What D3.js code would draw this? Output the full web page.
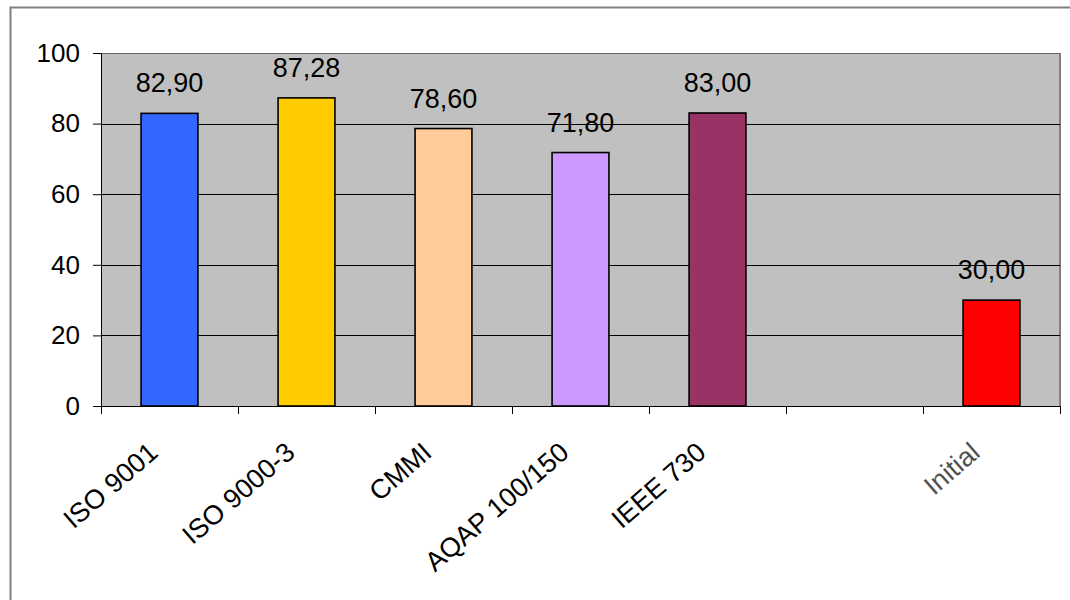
<!DOCTYPE html>
<html>
<head>
<meta charset="utf-8">
<script src="https://cdn.jsdelivr.net/npm/d3@7"></script>
<style>
  body { margin: 0; background: #fff; }
  svg { display: block; font-family: 'Liberation Sans', Arial, sans-serif; }
</style>
</head>
<body>
<div id="chart"></div>
<script>
// Chart data
const categories = ['ISO 9001', 'ISO 9000-3', 'CMMI', 'AQAP 100/150', 'IEEE 730', '', 'Initial'];
const values = [82.90, 87.28, 78.60, 71.80, 83.00, null, 30.00];
const barColors = ['#3366ff', '#ffcc00', '#ffcc99', '#cc99ff', '#993366', 'none', '#ff0000'];
const yTicks = [0, 20, 40, 60, 80, 100];

const width = 1070;
const height = 600;
const margin = { top: 53, right: 10, bottom: 194, left: 101 };
const innerW = width - margin.left - margin.right;
const innerH = height - margin.top - margin.bottom;

const svg = d3.select('#chart').append('svg')
    .attr('width', width)
    .attr('height', height);

// Outer chart frame (runs past the window edge)
svg.append('rect')
    .attr('x', 10.5)
    .attr('y', 7.5)
    .attr('width', width + 20)
    .attr('height', height + 20)
    .attr('fill', 'none')
    .attr('stroke', '#808080')
    .attr('stroke-width', 2);

const g = svg.append('g')
    .attr('transform', `translate(${margin.left}, ${margin.top})`);

const x = d3.scaleBand()
    .domain(categories.map((c, i) => i))
    .range([0, innerW]);

const y = d3.scaleLinear()
    .domain([0, 100])
    .range([innerH, 0]);

// Plot area
g.append('rect')
    .attr('width', innerW)
    .attr('height', innerH)
    .attr('fill', '#c0c0c0');

g.append('line')
    .attr('x1', innerW)
    .attr('x2', innerW)
    .attr('y1', 0)
    .attr('y2', innerH)
    .attr('stroke', '#808080')
    .attr('stroke-width', 2);

// Gridlines
g.append('g')
  .selectAll('line')
    .data(yTicks.filter(t => t > 0))
  .enter().append('line')
    .attr('x1', 0)
    .attr('x2', innerW)
    .attr('y1', d => Math.round(y(d)) + 0.5)
    .attr('y2', d => Math.round(y(d)) + 0.5)
    .attr('stroke', d => (d === 100 ? '#666' : '#000'))
    .attr('stroke-width', 1);

// Bars
const barW = x.bandwidth() * 0.415;
const barData = values.map((v, i) => ({ i, v })).filter(d => d.v !== null);

g.append('g')
  .selectAll('rect')
    .data(barData)
  .enter().append('rect')
    .attr('x', d => x(d.i) + (x.bandwidth() - barW) / 2)
    .attr('y', d => y(d.v))
    .attr('width', barW)
    .attr('height', d => innerH - y(d.v))
    .attr('fill', d => barColors[d.i])
    .attr('stroke', '#000')
    .attr('stroke-width', 1.6);

// Value labels
const fmt = v => v.toFixed(2).replace('.', ',');
g.append('g')
  .selectAll('text')
    .data(barData)
  .enter().append('text')
    .attr('x', d => x(d.i) + x.bandwidth() / 2)
    .attr('y', d => y(d.v) - 21)
    .attr('text-anchor', 'middle')
    .attr('font-size', 27)
    .attr('fill', '#000')
    .text(d => fmt(d.v));

// Y axis
const yAxis = g.append('g')
    .call(d3.axisLeft(y).tickValues(yTicks).tickSize(8).tickPadding(13));
yAxis.select('.domain').attr('stroke', '#000');
yAxis.selectAll('.tick line').attr('stroke', '#000');
yAxis.selectAll('.tick text')
    .attr('font-size', 26)
    .attr('font-family', "'Liberation Sans', Arial, sans-serif")
    .attr('fill', '#000');

// X axis
const xAxis = g.append('g')
    .attr('transform', `translate(0, ${innerH})`);
xAxis.append('line')
    .attr('x1', -8)
    .attr('x2', innerW)
    .attr('y1', 0.5)
    .attr('y2', 0.5)
    .attr('stroke', '#000');
xAxis.selectAll('.xtick')
    .data(d3.range(categories.length + 1))
  .enter().append('line')
    .attr('x1', d => Math.round(d * x.step()) + 0.5)
    .attr('x2', d => Math.round(d * x.step()) + 0.5)
    .attr('y1', 0)
    .attr('y2', 8)
    .attr('stroke', '#000');

xAxis.selectAll('.xlabel')
    .data(categories.map((c, i) => ({ c, i })).filter(d => d.c))
  .enter().append('text')
    .attr('transform', d => `translate(${x(d.i) + x.bandwidth() / 2 - 10}, 49) rotate(-41)`)
    .attr('text-anchor', 'end')
    .attr('font-size', 27)
    .attr('fill', d => (d.c === 'Initial' ? '#505050' : '#000'))
    .text(d => d.c);
</script>
</body>
</html>
